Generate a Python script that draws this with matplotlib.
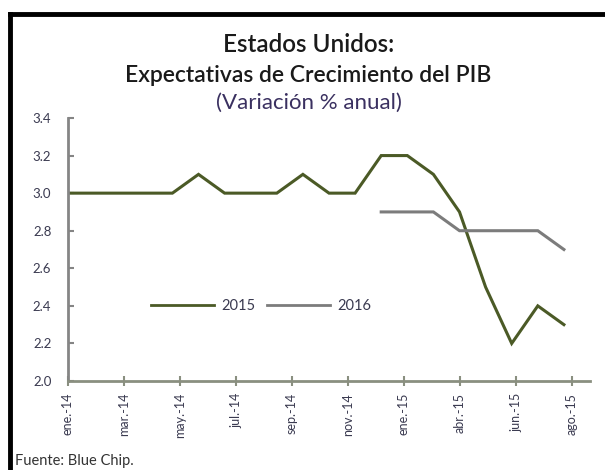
import matplotlib
matplotlib.use("Agg")
import matplotlib.pyplot as plt
import numpy as np
from matplotlib.lines import Line2D

# ---- data ----
tick_labels = ["ene.-14", "mar.-14", "may.-14", "jul.-14", "sep.-14",
               "nov.-14", "ene.-15", "abr.-15", "jun.-15", "ago.-15"]
serie_2015 = [3.0, 3.0, 3.0, 3.0, 3.0, 3.1, 3.0, 3.0, 3.0, 3.1,
              3.0, 3.0, 3.2, 3.2, 3.1, 2.9, 2.5, 2.2, 2.4, 2.3]
serie_2016 = [None] * 12 + [2.9, 2.9, 2.9, 2.8, 2.8, 2.8, 2.8, 2.7]
series_names = ["2015", "2016"]
yticks = [2.0, 2.2, 2.4, 2.6, 2.8, 3.0, 3.2, 3.4]

plt.rcParams['font.family'] = ['Lato', 'DejaVu Sans']

W, H = 605, 470
fig = plt.figure(figsize=(W / 100, H / 100), dpi=100)
fig.patch.set_facecolor("white")

ax = fig.add_axes([68 / W, 1 - 381 / H, (590 - 68) / W, (381 - 118) / H])

x = np.arange(len(serie_2015))
y16 = np.array([np.nan if v is None else v for v in serie_2016], dtype=float)

c15 = "#4b5a26"
c16 = "#7c7c7c"
ax.plot(x, serie_2015, color=c15, lw=2.2, solid_joinstyle="miter")
ax.plot(x, y16, color=c16, lw=2.2, solid_joinstyle="miter")

ax.set_xlim(0, 20)
ax.set_ylim(2.0, 3.4)

tick_step = 56 / 26.1
ax.set_xticks(np.arange(len(tick_labels)) * tick_step)
ax.set_xticklabels(tick_labels, rotation=90, fontsize=9, color="#3a3a50")
ax.set_yticks(yticks)
ax.set_yticklabels([f"{v:.1f}" for v in yticks], fontsize=9.5, color="#3a3a50")

for s in ["top", "right"]:
    ax.spines[s].set_visible(False)
ax.spines["left"].set_color("#858585")
ax.spines["left"].set_linewidth(2)
ax.spines["bottom"].set_color("#8a8f80")
ax.spines["bottom"].set_linewidth(2)
ax.tick_params(axis="y", direction="in", length=4, width=1.5, color="#858585", pad=12)
ax.tick_params(axis="x", direction="inout", length=7, width=1.5, color="#8a8f80", pad=5)
ax.set_facecolor("none")

handles = [Line2D([0], [0], color=c15, lw=2), Line2D([0], [0], color=c16, lw=2)]
leg = ax.legend(handles, series_names, ncol=2, frameon=False, loc="center",
                bbox_to_anchor=(0.37, 0.285), handlelength=4.3, handletextpad=0.5,
                columnspacing=0.8, fontsize=10.5)
for t in leg.get_texts():
    t.set_color("#3a3a50")

# titles
fig.text(0.51, 1 - 45 / H, "Estados Unidos:", ha="center", va="center",
         fontsize=17.5, fontweight="semibold", color="#1a1a1a")
fig.text(0.51, 1 - 75 / H, "Expectativas de Crecimiento del PIB", ha="center", va="center",
         fontsize=16.5, fontweight="semibold", color="#1a1a1a")
fig.text(0.51, 1 - 103 / H, "(Variación % anual)", ha="center", va="center",
         fontsize=16, color="#3a3060")

fig.text(15 / W, 1 - 461 / H, "Fuente: Blue Chip.", ha="left", va="center",
         fontsize=10.5, color="#333333")

# frame lines (black border top and left)
fig.add_artist(Line2D([10 / W, 1.0], [1 - 14 / H, 1 - 14 / H], color="black", lw=3.5,
                      transform=fig.transFigure))
fig.add_artist(Line2D([10 / W, 10 / W], [0, 1 - 14 / H], color="black", lw=3.5,
                      transform=fig.transFigure))

fig.savefig("out.png", dpi=100)
